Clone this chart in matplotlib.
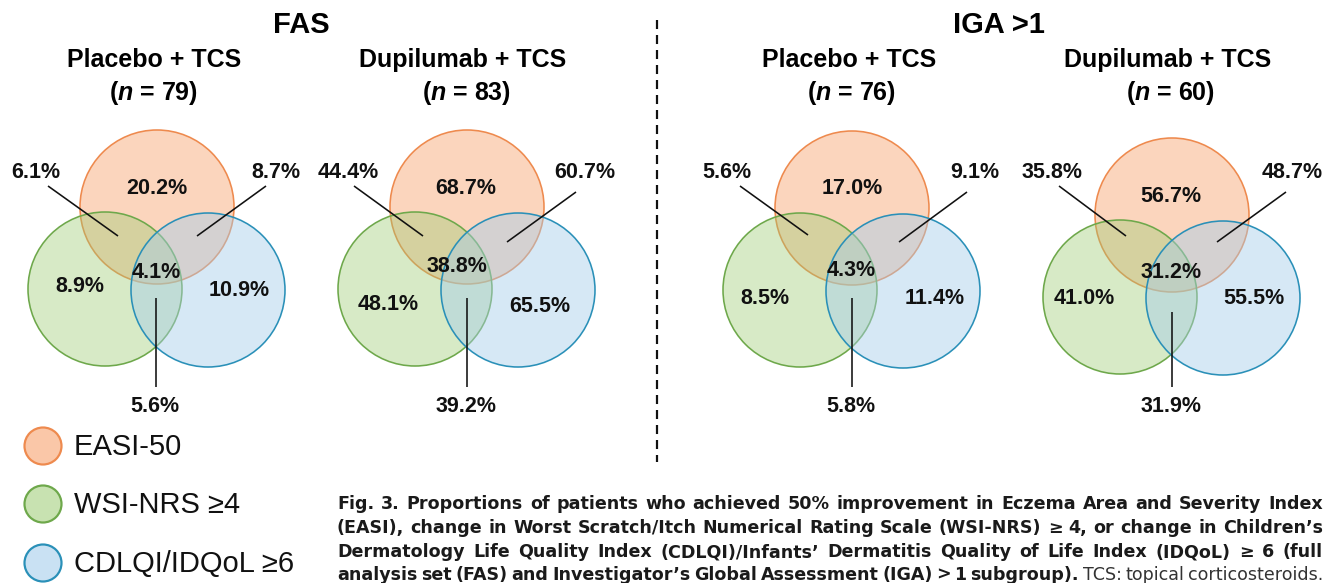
import matplotlib
matplotlib.use("Agg")
import matplotlib.pyplot as plt
from matplotlib.patches import Circle

# ---------------- data ----------------
group_titles = ["FAS", "IGA >1"]
arm_titles = ["Placebo + TCS", "Dupilumab + TCS", "Placebo + TCS", "Dupilumab + TCS"]
n_values = [79, 83, 76, 60]
easi_only = [20.2, 68.7, 17.0, 56.7]
wsi_only = [8.9, 48.1, 8.5, 41.0]
cdlqi_only = [10.9, 65.5, 11.4, 55.5]
easi_wsi = [6.1, 44.4, 5.6, 35.8]
easi_cdlqi = [8.7, 60.7, 9.1, 48.7]
wsi_cdlqi = [5.6, 39.2, 5.8, 31.9]
all_three = [4.1, 38.8, 4.3, 31.2]
legend_labels = ["EASI-50", "WSI-NRS \u22654", "CDLQI/IDQoL \u22656"]

caption_lines = [
    [("Fig. 3. Proportions of patients who achieved 50% improvement in Eczema Area and Severity Index", "bold")],
    [("(EASI), change in Worst Scratch/Itch Numerical Rating Scale (WSI-NRS) \u2265 4, or change in Children\u2019s", "bold")],
    [("Dermatology Life Quality Index (CDLQI)/Infants\u2019 Dermatitis Quality of Life Index (IDQoL) \u2265 6 (full", "bold")],
    [("analysis set (FAS) and Investigator\u2019s Global Assessment (IGA) > 1 subgroup).", "bold"),
     ("TCS: topical corticosteroids.", "normal")],
]

# ---------------- style ----------------
W, H = 1325, 583
PT = 0.72  # points per pixel at dpi 100
FONT = "Liberation Sans"
plt.rcParams["mathtext.fontset"] = "custom"
plt.rcParams["mathtext.it"] = "Liberation Sans:bold:italic"
plt.rcParams["mathtext.rm"] = "Liberation Sans:bold"
plt.rcParams["lines.scale_dashes"] = False

face = {"o": (0.969, 0.635, 0.431, 0.45), "g": (0.612, 0.796, 0.447, 0.40), "b": (0.651, 0.804, 0.922, 0.45)}
edge = {"o": "#EE8A4E", "g": "#6EA84B", "b": "#2A90B8"}

fig = plt.figure(figsize=(W / 100, H / 100), dpi=100)
ax = fig.add_axes([0, 0, 1, 1])
ax.set_xlim(0, W)
ax.set_ylim(H, 0)
ax.axis("off")

# ---------------- layout ----------------
R = 77
orange_centers = [(157, 207), (467, 207), (852, 208), (1172, 215)]
green_off = (-52, 82)
blue_off = (51, 83)
title_x = [154, 463, 849, 1168]
n_x = [154, 467, 852, 1171]
group_x = [301, 999]

# label positions per panel: easi, wsi, cdlqi, triple, ew, ec, wc
lab_pos = [
    [(157, 189), (80, 287), (239, 290), (156, 273), (36, 172), (276, 172), (155, 406)],
    [(466, 189), (388, 304), (540, 307), (457, 267), (348, 172), (585, 172), (466, 406)],
    [(852, 189), (765, 298), (935, 298), (851, 270), (727, 172), (975, 172), (851, 406)],
    [(1171, 196), (1084, 298), (1254, 298), (1171, 273), (1052, 172), (1292, 172), (1171, 406)],
]
# leader lines: ew, ec, wc
leaders = [
    [((48, 186), (118, 236)), ((266, 186), (197, 236)), ((156, 298), (156, 387))],
    [((354, 186), (423, 236)), ((576, 192), (507, 242)), ((467, 298), (467, 387))],
    [((740, 186), (808, 235)), ((967, 192), (899, 242)), ((852, 298), (852, 387))],
    [((1059, 186), (1126, 236)), ((1286, 192), (1217, 242)), ((1172, 312), (1172, 387))],
]

pct_fs = 15.5
for gi, g in enumerate(group_titles):
    ax.text(group_x[gi], 25, g, ha="center", va="center", fontsize=21, fontweight="bold", family=FONT)

for i in range(4):
    ox, oy = orange_centers[i]
    circles = [("o", (ox, oy)), ("g", (ox + green_off[0], oy + green_off[1])),
               ("b", (ox + blue_off[0], oy + blue_off[1]))]
    for k, c in circles:
        ax.add_patch(Circle(c, R, facecolor=face[k], edgecolor=edge[k], linewidth=1.6 * PT))
    ax.text(title_x[i], 60, arm_titles[i], ha="center", va="center", fontsize=18,
            fontweight="bold", family=FONT)
    ax.text(n_x[i], 93, "(" + r"$n$" + f" = {n_values[i]})", ha="center", va="center",
            fontsize=18, fontweight="bold", family=FONT)
    vals = [easi_only[i], wsi_only[i], cdlqi_only[i], all_three[i],
            easi_wsi[i], easi_cdlqi[i], wsi_cdlqi[i]]
    for v, (x, y) in zip(vals, lab_pos[i]):
        ax.text(x, y, f"{v:.1f}%", ha="center", va="center", fontsize=pct_fs,
                fontweight="bold", family=FONT, color="#111111")
    for (p0, p1) in leaders[i]:
        ax.plot([p0[0], p1[0]], [p0[1], p1[1]], color="#111111", lw=1.6 * PT,
                solid_capstyle="butt")

# dashed divider
ax.plot([657, 657], [20, 462], color="#111111", lw=2.2 * PT, dashes=(6.5, 4.3))

# legend
leg_y = [446, 504, 563]
for k, y, lab in zip(["o", "g", "b"], leg_y, legend_labels):
    fc = face[k][:3] + (min(1.0, face[k][3] + 0.15),)
    ax.add_patch(Circle((43, y), 18.5, facecolor=fc, edgecolor=edge[k], linewidth=2.2 * PT))
    ax.text(74, y + 1, lab, ha="left", va="center", fontsize=21, family=FONT, color="#111111")

# caption, justified
fig.canvas.draw()
renderer = fig.canvas.get_renderer()
cap_x0, cap_x1 = 337, 1323
baselines = [509, 533, 557, 580]


def words_of(line):
    out = []
    for txt, wt in line:
        for w in txt.split(" "):
            out.append((w, wt))
    return out


def measure(word, wt, fs):
    t = ax.text(0, 0, word, fontsize=fs, fontweight=wt, family="DejaVu Sans")
    bb = t.get_window_extent(renderer)
    t.remove()
    return bb.width


cap_fs = 12.6
for li, line in enumerate(caption_lines):
    ws = words_of(line)
    widths = [measure(w, wt, cap_fs) for w, wt in ws]
    total = sum(widths)
    gap = (cap_x1 - cap_x0 - total) / (len(ws) - 1)
    gap = max(gap, 3.0)
    x = cap_x0
    for (w, wt), wd in zip(ws, widths):
        ax.text(x, baselines[li], w, fontsize=cap_fs, fontweight=wt, family="DejaVu Sans",
                ha="left", va="baseline", color="#1a1a1a" if wt == "bold" else "#333333")
        x += wd + gap

fig.savefig("out.png", dpi=100)
